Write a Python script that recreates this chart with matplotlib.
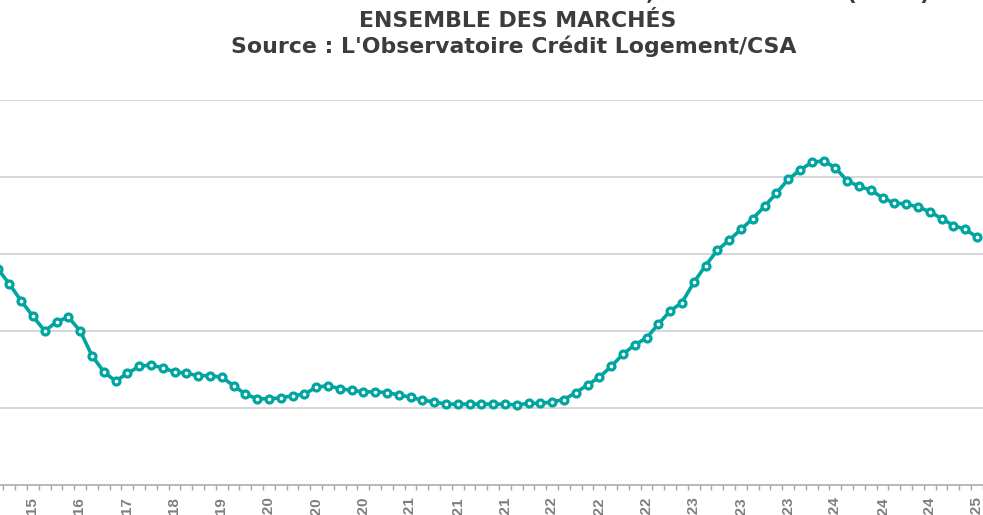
import matplotlib
matplotlib.use("Agg")
import matplotlib.pyplot as plt
from matplotlib.ticker import FixedLocator, NullFormatter

# taux moyens (%) : trimestriels jusqu'a fin 2019, puis mensuels
taux = [2.81, 2.61, 2.39, 2.19, 2.00, 2.12, 2.18, 2.00, 1.68, 1.47,
        1.35, 1.45, 1.54, 1.56, 1.52, 1.47, 1.45, 1.42, 1.42, 1.40,
        1.29, 1.18, 1.12, 1.12, 1.13, 1.16, 1.18, 1.27, 1.29, 1.25,
        1.23, 1.21, 1.21, 1.20, 1.17, 1.14, 1.10, 1.08, 1.05, 1.05,
        1.05, 1.05, 1.05, 1.05, 1.04, 1.06, 1.06, 1.08, 1.11, 1.20,
        1.30, 1.40, 1.54, 1.70, 1.82, 1.91, 2.09, 2.26, 2.37, 2.63,
        2.85, 3.05, 3.18, 3.32, 3.46, 3.62, 3.79, 3.97, 4.09, 4.19,
        4.21, 4.12, 3.95, 3.88, 3.83, 3.73, 3.66, 3.65, 3.61, 3.55,
        3.46, 3.37, 3.32, 3.22]

tick_labels = ['T1-15', 'T1-16', 'T1-17', 'T1-18', 'T1-19',
               'janv-20', 'mai-20', 'sept-20', 'janv-21', 'mai-21', 'sept-21',
               'janv-22', 'mai-22', 'sept-22', 'janv-23', 'mai-23', 'sept-23',
               'janv-24', 'mai-24', 'sept-24', 'janv-25']

titre = ["TAUX DES CRÉDITS IMMOBILIERS, TAUX MOYENS (EN %)",
         "ENSEMBLE DES MARCHÉS",
         "Source : L'Observatoire Crédit Logement/CSA"]

W, H = 983, 515
fig = plt.figure(figsize=(W / 100, H / 100), dpi=100)

# zone de tracé : x=0..983 px, axe en y=485, 5 % en y=100
ax = fig.add_axes([0, 30 / H, 1, 385 / H])
x = list(range(len(taux)))
ax.plot(x, taux, color='#00a5a0', lw=2.6, marker='o', ms=5.0,
        mfc='white', mec='#00a5a0', mew=2.3, zorder=3)

ax.set_xlim(0.2034, 0.2034 + W / 11.8)
ax.set_ylim(0, 5)

for v in range(1, 6):
    ax.axhline(v, color='#cccccc', lw=1.1, zorder=1)

for s in ['top', 'right', 'left']:
    ax.spines[s].set_visible(False)
ax.spines['bottom'].set_color('#a6a6a6')
ax.spines['bottom'].set_linewidth(1.1)
ax.set_yticks([])

ax.xaxis.set_major_locator(FixedLocator(list(range(3, len(taux), 4))))
ax.set_xticklabels(tick_labels, rotation=90, ha='center', va='top',
                   color='#7f7f7f', fontsize=11, fontweight='bold',
                   family='Liberation Sans')
ax.xaxis.set_minor_locator(FixedLocator([i - 0.5 for i in range(len(taux) + 1)]))
ax.xaxis.set_minor_formatter(NullFormatter())
ax.tick_params(axis='x', which='major', length=0, pad=8.6)
ax.tick_params(axis='x', which='minor', length=3.6, width=1, color='#a6a6a6')

tkw = dict(fontsize=15.8, fontweight='bold', color='#3c3c3c',
           family='DejaVu Sans', va='baseline')
fig.text(930 / W, 1 - 0 / H, titre[0], ha='right', **tkw)
fig.text(518 / W, 1 - 27 / H, titre[1], ha='center', **tkw)
fig.text(514 / W, 1 - 53 / H, titre[2], ha='center', **tkw)

fig.savefig('out.png', dpi=100)
